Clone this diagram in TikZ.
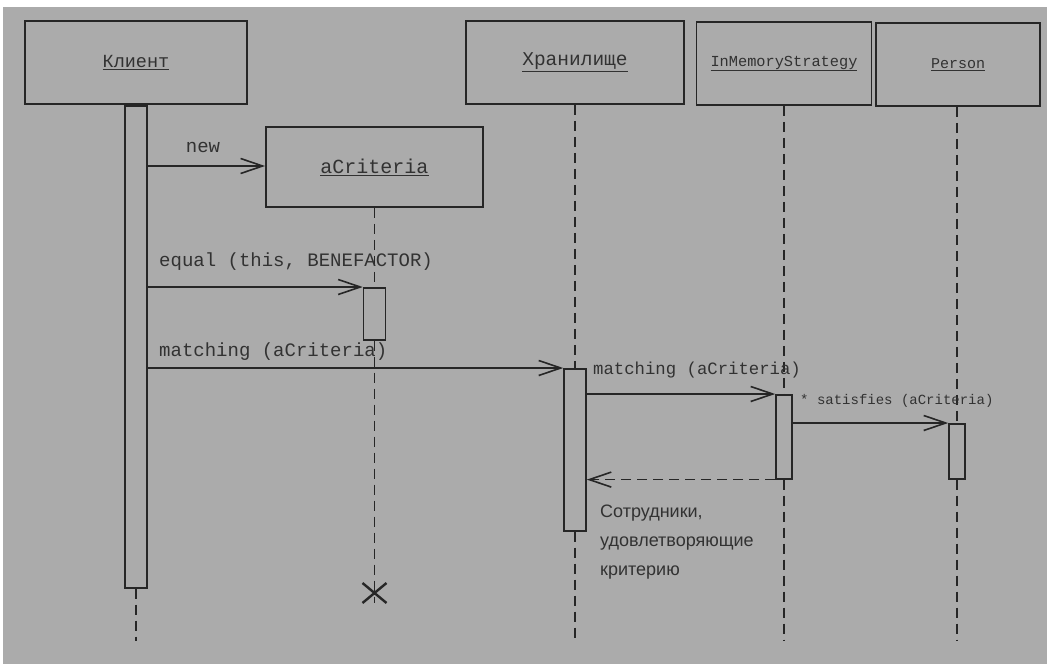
\documentclass[tikz,border=0pt]{standalone}
\usepackage{fontspec}
\setmainfont{Liberation Sans}
\newfontfamily\monof{Liberation Mono}
\usetikzlibrary{arrows.meta}
\definecolor{bg}{RGB}{171,171,171}
\definecolor{ink}{RGB}{38,38,38}
\definecolor{txt}{RGB}{50,50,50}
\tikzset{
  objbox/.style={draw=ink, line width=1.8pt, inner sep=0pt, font=\monof, text=txt},
  actbar/.style={draw=ink, line width=1.6pt, fill=bg, inner sep=0pt, anchor=north},
  life/.style={draw=ink, line width=1.8pt, dash pattern=on 10pt off 6pt},
  msg/.style={draw=ink, line width=1.6pt, -{Straight Barb[length=22pt,width=15pt,line width=1.6pt]}},
  ret/.style={msg, dash pattern=on 10pt off 6pt},
  lbl/.style={font=\monof, text=txt, inner sep=0pt, anchor=west},
  note/.style={font=\fontsize{18}{29}\selectfont, text=txt, inner sep=0pt, align=left, anchor=north west}
}
\begin{document}
\begin{tikzpicture}[x=1pt,y=-1pt]
\useasboundingbox (0,0) rectangle (1047,664);
\fill[white] (0,0) rectangle (1047,664);
\fill[bg] (3,7) rectangle (1047,664);
\coordinate (bottom) at (0,641);
\coordinate (ynew) at (0,166);
% objects
\node[objbox, minimum width=222pt, minimum height=83pt, font=\monof\fontsize{18.5}{20}\selectfont] (kl) at (136,62.5) {\underline{Клиент}};
\node[objbox, minimum width=218pt, minimum height=83pt, font=\monof\fontsize{19.5}{20}\selectfont] (hr) at (575,62.5) {\underline{Хранилище}};
\node[objbox, minimum width=175pt, minimum height=83pt, font=\monof\fontsize{15.3}{16}\selectfont] (im) at (784,63.5) {\underline{InMemoryStrategy}};
\node[objbox, minimum width=164pt, minimum height=83pt, font=\monof\fontsize{15}{16}\selectfont] (pe) at (958,64.5) {\underline{Person}};
\node[objbox, minimum width=217pt, minimum height=80pt, font=\monof\fontsize{20}{21}\selectfont] (ac) at (374.5,167) {\underline{aCriteria}};
% activation bars
\node[actbar, minimum width=22pt, minimum height=482pt] (klbar) at (kl.south) {};
\node[actbar, minimum width=22pt, minimum height=52pt] (acbar) at (374.5,287) {};
\node[actbar, minimum width=22pt, minimum height=162pt] (hrbar) at (575,368) {};
\node[actbar, minimum width=16pt, minimum height=84pt] (imbar) at (784,394) {};
\node[actbar, minimum width=16pt, minimum height=55pt] (pebar) at (957,423) {};
\coordinate (xmark) at (374.5,593);
% lifelines
\draw[life] (klbar.south) -- (klbar.south |- bottom);
\draw[life] (ac.south) -- (acbar.north);
\draw[life] (acbar.south) -- ([yshift=-10pt]xmark);
\draw[life] (hr.south) -- (hrbar.north);
\draw[life] (hrbar.south) -- (hrbar.south |- bottom);
\draw[life] (im.south) -- (imbar.north);
\draw[life] (imbar.south) -- (imbar.south |- bottom);
\draw[life] (pe.south -| pebar.north) -- (pebar.north);
\draw[life] (pebar.south) -- (pebar.south |- bottom);
% redraw bars over lifelines
\node[actbar, minimum width=22pt, minimum height=482pt] at (kl.south) {};
\node[actbar, minimum width=22pt, minimum height=52pt] at (374.5,287) {};
\node[actbar, minimum width=22pt, minimum height=162pt] at (575,368) {};
\node[actbar, minimum width=16pt, minimum height=84pt] at (784,394) {};
\node[actbar, minimum width=16pt, minimum height=55pt] at (957,423) {};
% destruction
\draw[ink, line width=2.4pt] ([shift={(-12pt,-10pt)}]xmark) -- ([shift={(12pt,10pt)}]xmark)
  ([shift={(-12pt,10pt)}]xmark) -- ([shift={(12pt,-10pt)}]xmark);
% messages
\draw[msg] (klbar.east |- ynew) -- (ac.west |- ynew);
\node[font=\monof\fontsize{19}{20}\selectfont, text=txt, inner sep=0pt] (lnew) at (203,147) {new};
\draw[msg] (klbar.east |- acbar.north) -- (acbar.north west);
\node[lbl, font=\monof\fontsize{19}{20}\selectfont] (leq) at (159,262) {equal (this, BENEFACTOR)};
\draw[msg] (klbar.east |- hrbar.north) -- (hrbar.north west);
\node[lbl, font=\monof\fontsize{19}{20}\selectfont] (lm1) at (159,352) {matching (aCriteria)};
\draw[msg] (hrbar.east |- imbar.north) -- (imbar.north west);
\node[lbl, font=\monof\fontsize{17.3}{18}\selectfont] (lm2) at (593,370) {matching (aCriteria)};
\draw[msg] (imbar.east |- pebar.north) -- (pebar.north west);
\node[lbl, font=\monof\fontsize{14}{15}\selectfont] (lsat) at (800,401) {* satisfies (aCriteria)};
\draw[ret] (imbar.south west) -- (hrbar.east |- imbar.south);
\node[note] (nt) at (600,505) {Сотрудники,\\удовлетворяющие\\критерию};
\end{tikzpicture}
\end{document}
